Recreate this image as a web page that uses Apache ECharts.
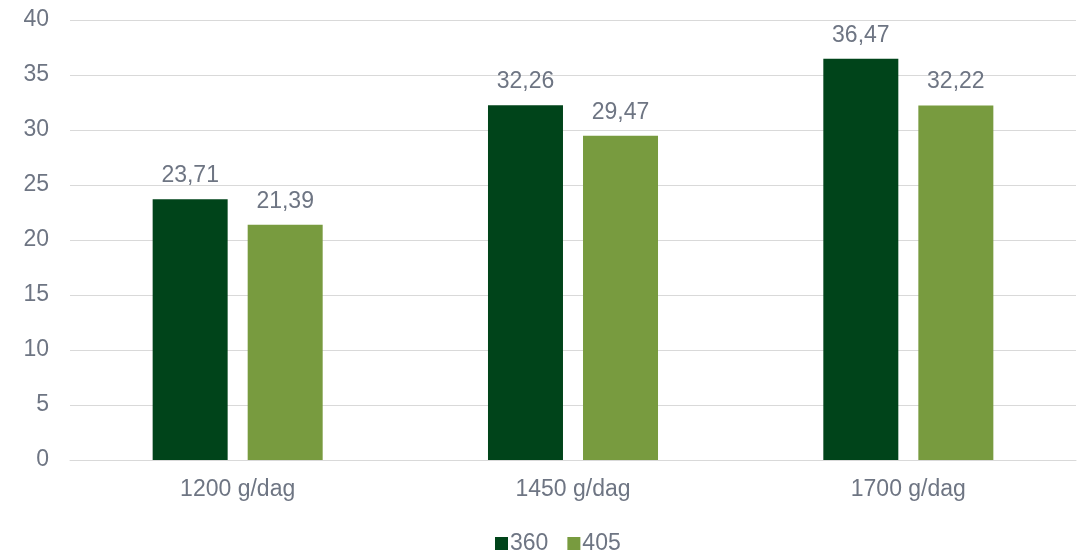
<!DOCTYPE html>
<html><head><meta charset="utf-8">
<script src="https://cdn.jsdelivr.net/npm/echarts@6/dist/echarts.min.js"></script>
<style>html,body{margin:0;padding:0;background:#fff}#c{width:1086px;height:550px}</style>
</head><body><div id="c"></div>
<script>
const categories = ['1200 g/dag', '1450 g/dag', '1700 g/dag'];
const series360 = [23.71, 32.26, 36.47];
const series405 = [21.39, 29.47, 32.22];
const seriesNames = ['360', '405'];
const colors = ['#00441A', '#789B3F'];
const txt = '#6E7583';
const font = '"Liberation Sans", Arial, sans-serif';
const chart = echarts.init(document.getElementById('c'));
const fmt = p => p.value.toFixed(2).replace('.', ',');
chart.setOption({
  animation: false,
  textStyle: {fontFamily: font},
  grid: {left: 70, right: 10, top: 20, bottom: 90},
  legend: {
    top: 527, left: 490, itemWidth: 13, itemHeight: 13, itemGap: 19,
    icon: 'rect',
    textStyle: {color: txt, fontSize: 23, fontFamily: font, padding: [0, 0, 0, -3]},
    data: seriesNames
  },
  xAxis: {
    type: 'category', data: categories,
    axisLine: {lineStyle: {color: '#D9D9D9', width: 1}},
    axisTick: {show: false},
    axisLabel: {color: txt, fontSize: 23, margin: 18, fontFamily: font}
  },
  yAxis: {
    type: 'value', min: 0, max: 40, interval: 5,
    axisLine: {show: false}, axisTick: {show: false},
    axisLabel: {color: txt, fontSize: 23, margin: 21, fontFamily: font},
    splitLine: {lineStyle: {color: '#D9D9D9', width: 1}}
  },
  series: [
    {name: seriesNames[0], type: 'bar', data: series360, barWidth: 75, barGap: '26.7%',
     itemStyle: {color: colors[0]},
     label: {show: true, position: 'top', distance: 12, color: txt, fontSize: 23, fontFamily: font, formatter: fmt}},
    {name: seriesNames[1], type: 'bar', data: series405, barWidth: 75,
     itemStyle: {color: colors[1]},
     label: {show: true, position: 'top', distance: 12, color: txt, fontSize: 23, fontFamily: font, formatter: fmt}}
  ]
});
</script></body></html>
